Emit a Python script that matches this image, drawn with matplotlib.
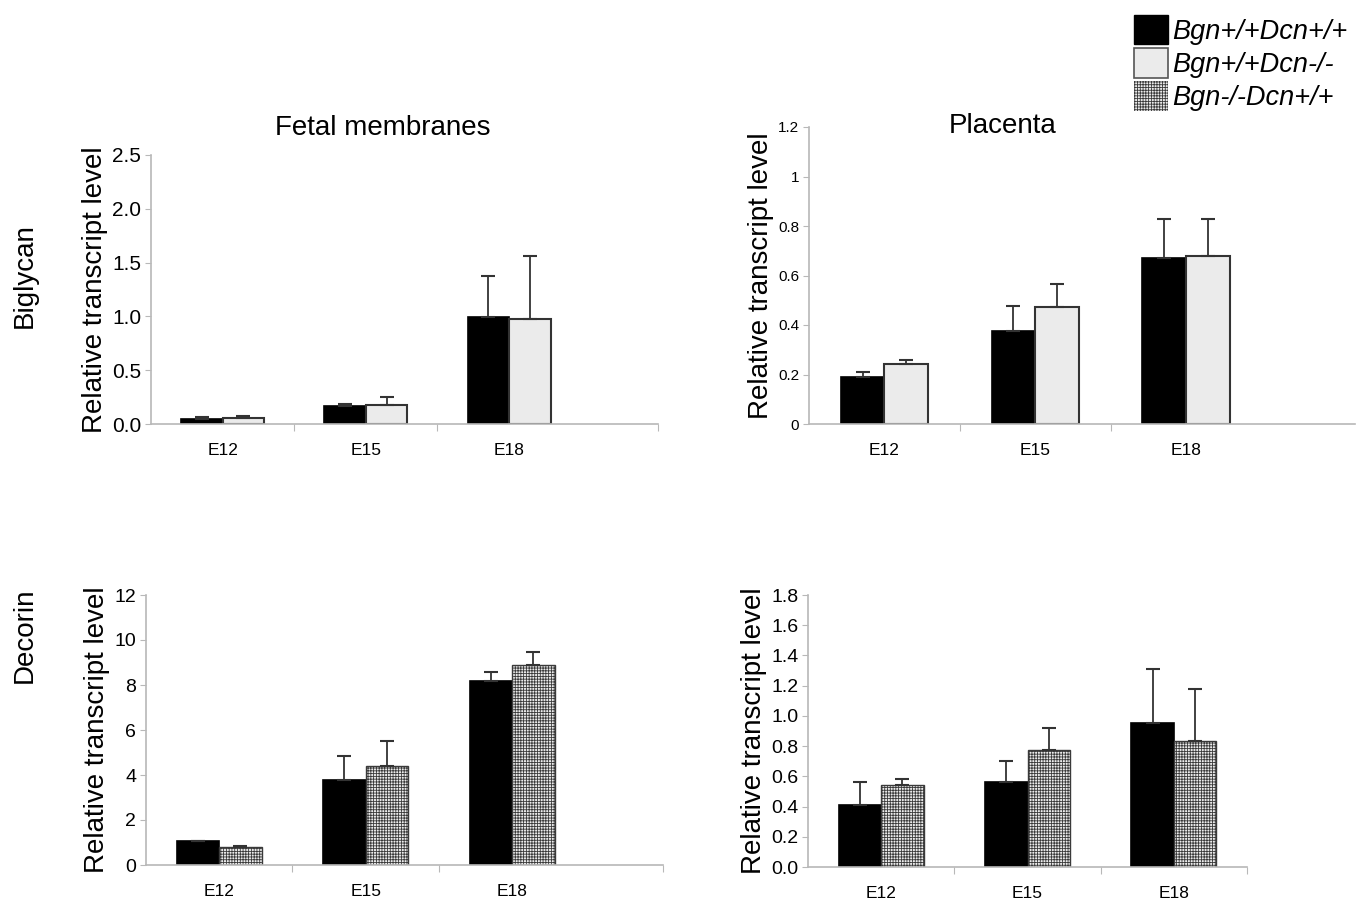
import numpy as np
import matplotlib.pyplot as plt
from matplotlib.patches import Patch
from matplotlib.ticker import FuncFormatter

plt.rcParams['font.family'] = ['Liberation Sans', 'DejaVu Sans']
plt.rcParams['hatch.linewidth'] = 0.6

stages = ['E12', 'E15', 'E18']
legend_labels = ['Bgn+/+Dcn+/+', 'Bgn+/+Dcn-/-', 'Bgn-/-Dcn+/+']

# Biglycan, fetal membranes: wild type vs Dcn-/-
bgn_fm_wt = [0.045, 0.165, 0.99]
bgn_fm_wt_err = [0.02, 0.025, 0.385]
bgn_fm_dcn = [0.06, 0.175, 0.975]
bgn_fm_dcn_err = [0.01, 0.075, 0.585]

# Biglycan, placenta
bgn_pl_wt = [0.191, 0.375, 0.672]
bgn_pl_wt_err = [0.019, 0.10, 0.155]
bgn_pl_dcn = [0.243, 0.473, 0.677]
bgn_pl_dcn_err = [0.014, 0.093, 0.15]

# Decorin, fetal membranes: wild type vs Bgn-/-
dcn_fm_wt = [1.05, 3.79, 8.19]
dcn_fm_wt_err = [0.0, 1.07, 0.39]
dcn_fm_bgn = [0.78, 4.41, 8.89]
dcn_fm_bgn_err = [0.08, 1.09, 0.59]

# Decorin, placenta
dcn_pl_wt = [0.41, 0.56, 0.956]
dcn_pl_wt_err = [0.15, 0.14, 0.354]
dcn_pl_bgn = [0.54, 0.775, 0.835]
dcn_pl_bgn_err = [0.04, 0.145, 0.341]

W, H = 1368, 908
fig = plt.figure(figsize=(W / 100, H / 100), dpi=100)

def px_axes(x0, x1, y0, y1):
    return fig.add_axes([x0 / W, 1 - y0 / H, (x1 - x0) / W, (y0 - y1) / H])

bw = 0.29
x = np.arange(len(stages))
spine_col = '#b8b8b8'
ekw = dict(ecolor='#333333', elinewidth=1.3, capsize=5, capthick=1.5)

def panel(ax, a, a_err, b, b_err, second, ylim, yticks, xright, ytick_size, fmt, xticks):
    ax.bar(x - bw / 2, a, bw, color='black', edgecolor='black', linewidth=1.2,
           yerr=[np.zeros(3), a_err], error_kw=ekw)
    if second == 'light':
        ax.bar(x + bw / 2, b, bw, color='#ebebeb', edgecolor='#333333', linewidth=1.5,
               yerr=[np.zeros(3), b_err], error_kw=ekw)
    else:
        ax.bar(x + bw / 2, b, bw, color='#ececec', edgecolor='#3a3a3a', linewidth=1.0, hatch='++++++',
               yerr=[np.zeros(3), b_err], error_kw=ekw)
    ax.set_xlim(-0.5, xright)
    ax.set_ylim(*ylim)
    ax.set_yticks(yticks)
    ax.yaxis.set_major_formatter(FuncFormatter(fmt))
    ax.set_xticks(xticks)
    ax.set_xticklabels([])
    ax.set_xticks(x, minor=True)
    ax.set_xticklabels(stages, minor=True, fontsize=12.5)
    ax.tick_params(axis='x', which='minor', length=0, pad=14)
    ax.tick_params(axis='x', which='major', length=5, color=spine_col, direction='out')
    ax.tick_params(axis='y', length=4, color=spine_col, labelsize=ytick_size, pad=3)
    for s in ['top', 'right']:
        ax.spines[s].set_visible(False)
    for s in ['left', 'bottom']:
        ax.spines[s].set_color(spine_col)
        ax.spines[s].set_linewidth(1.2)
    ax.set_ylabel('Relative transcript level', fontsize=20, labelpad=3)

f1 = lambda v, p: '%.1f' % v
fg = lambda v, p: '%g' % v
f0 = lambda v, p: '%d' % v

ax1 = px_axes(151, 658, 424, 155)
panel(ax1, bgn_fm_wt, bgn_fm_wt_err, bgn_fm_dcn, bgn_fm_dcn_err, 'light',
      (0, 2.5), np.arange(0, 2.51, 0.5), 3.04, 15, f1, [0.5, 1.5, 3.04])

ax2 = px_axes(809, 1355, 424, 127)
panel(ax2, bgn_pl_wt, bgn_pl_wt_err, bgn_pl_dcn, bgn_pl_dcn_err, 'light',
      (0, 1.2), np.arange(0, 1.21, 0.2), 3.12, 11, fg, [0.5, 1.5])

ax3 = px_axes(146, 663, 865, 595)
panel(ax3, dcn_fm_wt, dcn_fm_wt_err, dcn_fm_bgn, dcn_fm_bgn_err, 'hatch',
      (0, 12), np.arange(0, 12.1, 2), 3.03, 14, f0, [0.5, 1.5, 3.03])

ax4 = px_axes(808, 1247, 867, 595)
panel(ax4, dcn_pl_wt, dcn_pl_wt_err, dcn_pl_bgn, dcn_pl_bgn_err, 'hatch',
      (0, 1.8), np.arange(0, 1.81, 0.2), 2.5, 14, f1, [0.5, 1.5, 2.5])

fig.text(383 / W, 1 - 128 / H, 'Fetal membranes', fontsize=20, ha='center', va='center')
fig.text(1003 / W, 1 - 126 / H, 'Placenta', fontsize=20, ha='center', va='center')
fig.text(25 / W, 1 - 276 / H, 'Biglycan', fontsize=20, rotation=90, ha='center', va='center')
fig.text(25 / W, 1 - 635 / H, 'Decorin', fontsize=20, rotation=90, ha='center', va='center')

handles = [Patch(facecolor='black', edgecolor='black'),
           Patch(facecolor='#ebebeb', edgecolor='#555555', linewidth=1.2),
           Patch(facecolor='#ececec', edgecolor='#3a3a3a', linewidth=0, hatch='++++++')]
leg = fig.legend(handles, legend_labels, loc='upper right', bbox_to_anchor=(1366 / W, 1 + 4 / H),
                 frameon=False, handlelength=1.25, handleheight=1.3, handletextpad=0.15,
                 labelspacing=0.12, borderaxespad=0.3, prop={'style': 'italic', 'size': 19.5})

fig.savefig('out.png', dpi=100)
plt.close()
